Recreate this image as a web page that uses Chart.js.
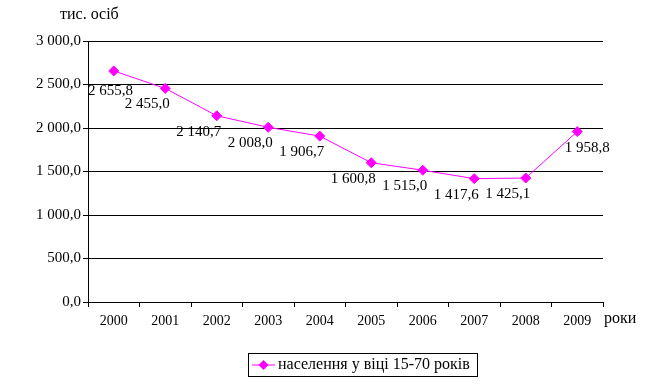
<!DOCTYPE html>
<html>
<head>
<meta charset="utf-8">
<script src="https://cdn.jsdelivr.net/npm/chart.js@4"></script>
<style>
  body { margin:0; background:#fff; }
  #wrap { position:relative; width:647px; height:384px; }
</style>
</head>
<body>
<div id="wrap"><canvas id="graf"></canvas></div>
<script>
// дані з рисунка
const years = ['2000','2001','2002','2003','2004','2005','2006','2007','2008','2009'];
const population = [2655.8, 2455.0, 2140.7, 2008.0, 1906.7, 1600.8, 1515.0, 1417.6, 1425.1, 1958.8];
const seriesName = 'населення у віці 15-70 років';
const yUnit = 'тис. осіб';
const xUnit = 'роки';

const FONT = 'Liberation Serif, Times New Roman, serif';
const PINK = '#FF00FF';

// 2655.8 -> "2 655,8"
function fmt (v) {
  const [i, d] = v.toFixed(1).split('.');
  return i.replace(/\B(?=(\d{3})+(?!\d))/g, ' ') + ',' + d;
}

// підписи значень, назви осей та легенда
const extras = {
  id: 'extras',
  afterDatasetsDraw (chart) {
    const ctx = chart.ctx;
    const meta = chart.getDatasetMeta(0);
    const area = chart.chartArea;
    ctx.save();
    ctx.fillStyle = '#000';
    ctx.font = '15px ' + FONT;
    ctx.textAlign = 'center';
    ctx.textBaseline = 'middle';
    meta.data.forEach((pt, i) => {
      const txt = fmt(population[i]);
      const half = ctx.measureText(txt).width / 2;
      const last = i === meta.data.length - 1;
      let x = pt.x + (last ? 10 : -18);
      x = Math.max(x, area.left + half);
      ctx.fillText(txt, x, pt.y + (i === 0 ? 20 : 16));
    });

    ctx.font = '16px ' + FONT;
    ctx.textAlign = 'left';
    ctx.fillText(yUnit, 60, 15);
    ctx.fillText(xUnit, area.right + 1, 319);

    // легенда
    const bx = 248, by = 353, bw = 229, bh = 23;
    ctx.strokeStyle = '#000';
    ctx.lineWidth = 1;
    ctx.strokeRect(bx + 0.5, by + 0.5, bw, bh);
    const cy = by + bh / 2 + 0.5;
    ctx.strokeStyle = PINK;
    ctx.beginPath();
    ctx.moveTo(bx + 4, cy);
    ctx.lineTo(bx + 27, cy);
    ctx.stroke();
    ctx.fillStyle = PINK;
    ctx.beginPath();
    ctx.moveTo(bx + 15.5, cy - 5);
    ctx.lineTo(bx + 20.5, cy);
    ctx.lineTo(bx + 15.5, cy + 5);
    ctx.lineTo(bx + 10.5, cy);
    ctx.closePath();
    ctx.fill();
    ctx.fillStyle = '#000';
    ctx.font = '16px ' + FONT;
    ctx.fillText(seriesName, bx + 30, cy);
    ctx.restore();
  }
};

new Chart(document.getElementById('graf'), {
  type: 'line',
  data: {
    labels: years,
    datasets: [{
      label: seriesName,
      data: population,
      borderColor: PINK,
      backgroundColor: PINK,
      borderWidth: 1,
      pointStyle: 'rectRot',
      pointRadius: 5,
      pointHoverRadius: 5,
      tension: 0
    }]
  },
  options: {
    responsive: true,
    maintainAspectRatio: false,
    animation: false,
    layout: { padding: { left: 0, right: 44, top: 41, bottom: 0 } },
    plugins: { legend: { display: false }, tooltip: { enabled: false } },
    scales: {
      x: {
        offset: true,
        grid: { offset: true, drawOnChartArea: false, color: '#000', tickLength: 5 },
        border: { color: '#000' },
        ticks: { color: '#000', font: { family: FONT, size: 14 }, padding: 6, maxRotation: 0 },
        afterFit (s) { s.height = 82; }
      },
      y: {
        min: 0, max: 3000,
        grid: { color: '#000', tickLength: 5 },
        border: { color: '#000' },
        ticks: { stepSize: 500, color: '#000', font: { family: FONT, size: 15 }, padding: 2,
                 callback: v => fmt(v) },
        afterFit (s) { s.width = 88; }
      }
    }
  },
  plugins: [extras]
});
</script>
</body>
</html>
